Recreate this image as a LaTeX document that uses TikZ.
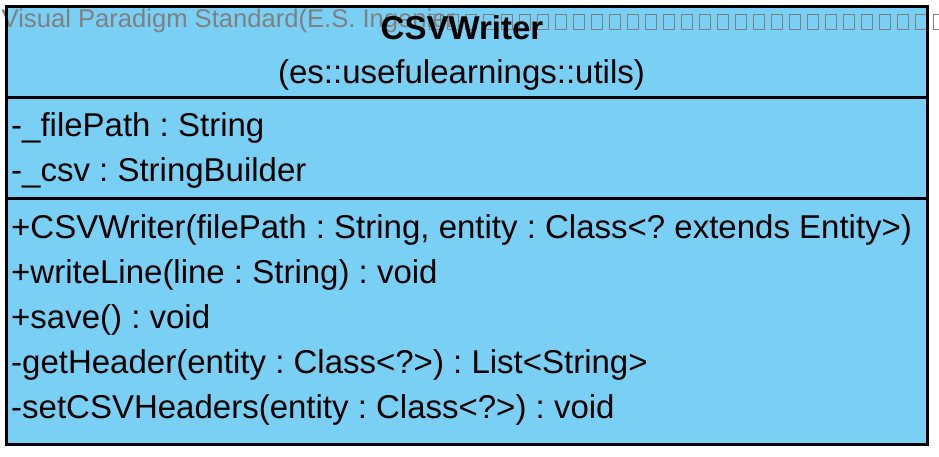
\documentclass[tikz,border=0pt]{standalone}
\usepackage{fontspec}
\setmainfont{Liberation Sans}
\usepackage{tikz}
\usetikzlibrary{positioning}

\definecolor{classfill}{RGB}{122,207,245}
\definecolor{wmgray}{RGB}{128,128,128}

\tikzset{
    member/.style={anchor=base west, inner sep=0pt, font=\fontsize{33}{40}\selectfont},
    header/.style={anchor=base, inner sep=0pt, font=\fontsize{33}{40}\selectfont},
    wmark/.style={anchor=base west, inner sep=0pt, text=wmgray, font=\fontsize{25.6}{28}\selectfont},
    tofu/.style={draw=wmgray, line width=0.8pt}
}

\begin{document}
\frenchspacing
\begin{tikzpicture}[x=1pt, y=-1pt]
                \useasboundingbox (0,0) rectangle (939,456);

                \fill[classfill] (6.5,6) rectangle (927.5,444.5);

                % watermark
                \node[wmark] (wm) at (1.5, 27) {Visual Paradigm Standard(E.S. Ingenier};
                \foreach \i in {0,...,28}
                    \draw[tofu] ({429.3+18*\i},14.7) rectangle ++(11.3,15);

                \node[header, font=\fontsize{33}{40}\selectfont\bfseries] (title) at (462, 39.5) {CSVWriter};
                \node[header] (pkg) at (461.5, 83) {(es::usefulearnings::utils)};

                \node[member] (filepath) at (11, 136.7) {-\_filePath : String};
                \node[member] (csv) at (11, 181.7) {-\_csv : StringBuilder};

                \node[member] (ctor) at (11, 238.3) {+CSVWriter(filePath : String, entity : Class<? extends Entity>)};
                \node[member] (writeline) at (11, 283.3) {+writeLine(line : String) : void};
                \node[member] (save) at (11, 328.3) {+save() : void};
                \node[member] (getheader) at (11, 373.3) {-getHeader(entity : Class<?>) : List<String>};
                \node[member] (setheaders) at (11, 418.3) {-setCSVHeaders(entity : Class<?>) : void};

                \draw[line width=3pt] (6.5,6) rectangle (927.5,444.5);
                \draw[line width=3pt] (6.5,97) -- (927.5,97);
                \draw[line width=3pt] (6.5,198) -- (927.5,198);
            \end{tikzpicture}
\end{document}
